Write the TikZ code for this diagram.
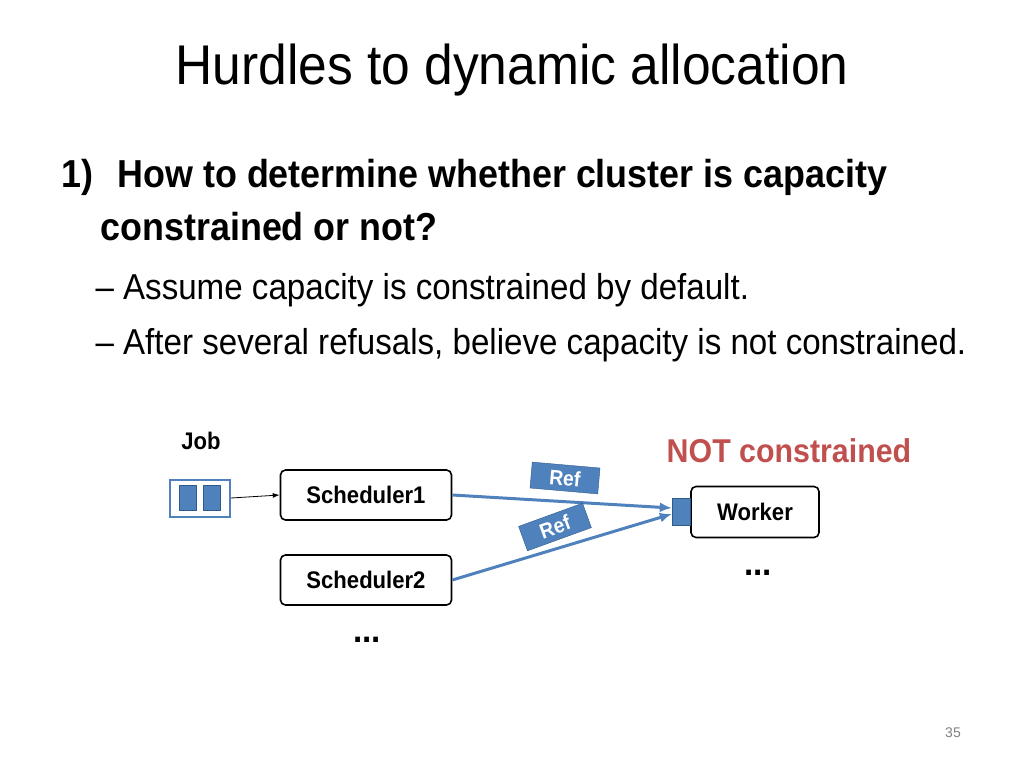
\documentclass[tikz,border=0pt]{standalone}
\usepackage{fontspec}
\setmainfont{Liberation Sans}[FakeStretch=0.92]
\newfontfamily\plainf{Liberation Sans}
\usetikzlibrary{arrows.meta,calc}
\definecolor{bl}{HTML}{4F81BD}
\definecolor{bld}{HTML}{2E5C8A}
\definecolor{rd}{HTML}{C0504D}
\tikzset{box/.style={draw,line width=1.6pt,rounded corners=5pt,minimum width=171pt,minimum height=50pt,font=\fontsize{24}{26}\selectfont\bfseries},
 blue/.style={draw=bl,line width=3pt,-{Latex[length=12pt,width=10pt]}},
 tag/.style={fill=bl,draw=bld,text=white,font=\fontsize{21}{22}\selectfont\bfseries,minimum width=68pt,minimum height=26pt,inner sep=1pt}}
\begin{document}
\begin{tikzpicture}[x=1pt,y=-1pt]
\useasboundingbox (0,0) rectangle (1024,768);
\node (title) at (512,70) {\fontsize{56}{60}\selectfont Hurdles to dynamic allocation};
\node[anchor=base west] (n1) at (58,187) {\fontsize{39}{42}\selectfont\bfseries 1)};
\node[anchor=base west] (l1) at (114,187) {\fontsize{39}{42}\selectfont\bfseries How to determine whether cluster is capacity};
\node[anchor=base west] (l2) at (97,240) {\fontsize{39}{42}\selectfont\bfseries constrained or not?};
\node[anchor=base west] (s1) at (92,299) {\fontsize{36}{38}\selectfont -- Assume capacity is constrained by default.};
\node[anchor=base west] (s2) at (92,354) {\fontsize{36}{38}\selectfont -- After several refusals, believe capacity is not constrained.};
\node (joblab) at (201,441) {\fontsize{24}{26}\selectfont\bfseries Job};
\node[draw=bl,line width=2pt,minimum width=60pt,minimum height=37pt] (job) at (200,498) {};
\node[fill=bl,draw=bld,line width=1pt,minimum width=17pt,minimum height=25pt,inner sep=0] (q1) at (188,498) {};
\node[fill=bl,draw=bld,line width=1pt,minimum width=17pt,minimum height=25pt,inner sep=0] (q2) at (212,498) {};
\node[box] (s1b) at (366,495) {Scheduler1};
\node[box] (s2b) at (366,580) {Scheduler2};
\node[box,minimum width=128pt,minimum height=51pt] (w) at (755,512) {Worker};
\node[fill=bl,draw=bld,minimum width=18pt,minimum height=27pt,inner sep=0,anchor=east] (in) at (w.west) {};
\draw[-{Latex[length=7pt,width=5pt]},line width=0.8pt] (job.east) -- (s1b.west);
\coordinate (e1) at ($(in.west)+(0,-4)$);
\coordinate (e2) at ($(in.west)+(0,2)$);
\draw[blue] (s1b.east) -- (e1);
\draw[blue] (s2b.east) -- (e2);
\node[tag,rotate=-5] (r1) at (565,478) {Ref};
\node[tag,rotate=20] (r2) at (555,527) {Ref};
\node (nc) at (789,451) {\fontsize{33}{35}\selectfont\bfseries\color{rd} NOT constrained};
\node (d1) at (758,573) {\fontsize{36}{38}\selectfont\bfseries ...};
\node (d2) at (367,640) {\fontsize{36}{38}\selectfont\bfseries ...};
\node (pg) at (953,733) {\plainf\fontsize{14}{16}\selectfont\color{gray} 35};
\end{tikzpicture}
\end{document}
